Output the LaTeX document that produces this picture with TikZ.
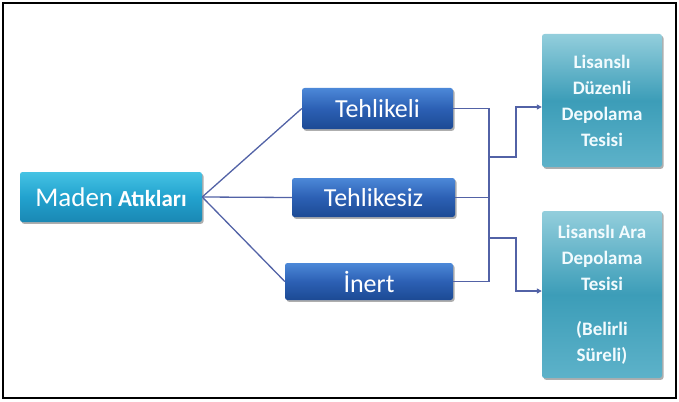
\documentclass[tikz,border=0pt]{standalone}
\usepackage{fontspec}
\setmainfont{Carlito}
\usetikzlibrary{shadows,arrows.meta}
\definecolor{linec}{HTML}{5262A6}
\definecolor{bluetop}{HTML}{4C88D8}
\definecolor{bluemid}{HTML}{2C60B4}
\definecolor{bluebot}{HTML}{1C4A94}
\definecolor{cyantop}{HTML}{45C3E4}
\definecolor{cyanmid}{HTML}{22A2CE}
\definecolor{cyanbot}{HTML}{1A88B4}
\definecolor{tealtop}{HTML}{93CEDC}
\definecolor{tealmid}{HTML}{3C9DB8}
\definecolor{tealbot}{HTML}{5DB2C9}
\tikzset{
  x=1pt, y=-1pt,
  basebox/.style={rounded corners=2.5pt, inner sep=0pt, text=white, draw=none,
    drop shadow={shadow xshift=1.5pt, shadow yshift=-1.8pt, opacity=0.45, fill=black!70}},
  mainbox/.style={basebox, top color=cyantop, bottom color=cyanbot, middle color=cyanmid},
  catbox/.style={basebox, top color=bluetop, bottom color=bluebot, middle color=bluemid,
    font=\fontsize{26}{30}\selectfont},
  sitebox/.style={basebox, top color=tealtop, bottom color=tealbot, middle color=tealmid,
    align=center, font=\bfseries\fontsize{19}{26}\selectfont, text=white!95!cyan},
  conn/.style={draw=linec, line width=1.3pt},
  arr/.style={conn, -{Triangle[length=5pt,width=5pt]}}
}
\begin{document}
\begin{tikzpicture}
\useasboundingbox (0,0) rectangle (679,401);
\draw[black, line width=1.3pt] (3,3) rectangle (676,398);

\node[mainbox, minimum width=182pt, minimum height=50pt] (maden) at (111,197)
  {{\fontsize{27}{30}\selectfont Maden}\hspace{5pt}{\fontsize{23}{30}\selectfont\bfseries Atıkları}};
\node[catbox, minimum width=151pt, minimum height=41pt] (teh) at (377.5,108.5) {Tehlikeli};
\node[catbox, minimum width=163pt, minimum height=39pt] (tsz) at (373.5,197.5) {Tehlikesiz};
\node[catbox, minimum width=168pt, minimum height=37pt] (inert) at (369,281.5) {İnert};

\node[sitebox, minimum width=120pt, minimum height=133pt] (up) at (602,100.5)
  {Lisanslı\\Düzenli\\Depolama\\Tesisi};
\node[sitebox, minimum width=120pt, minimum height=167pt] (low) at (602,294.5)
  {Lisanslı Ara\\Depolama\\Tesisi\\[19pt](Belirli\\Süreli)};

\draw[conn] (maden.east) -- (teh.west);
\draw[conn] (maden.east) -- (tsz.west);
\draw[conn] (maden.east) -- (inert.west);

\coordinate (bus) at (489,0);
\coordinate (b1) at (489,157);
\coordinate (b2) at (489,238);
\draw[conn] (teh.east) -- (teh.east -| bus) -- (inert.east -| bus) -- (inert.east);
\draw[conn] (tsz.east) -- (tsz.east -| bus);
\draw[arr] (b1) -- ++(27,0) |- ([yshift=-6.5pt]up.west);
\draw[arr] (b2) -- ++(27,0) |- ([yshift=3.5pt]low.west);
\end{tikzpicture}
\end{document}
